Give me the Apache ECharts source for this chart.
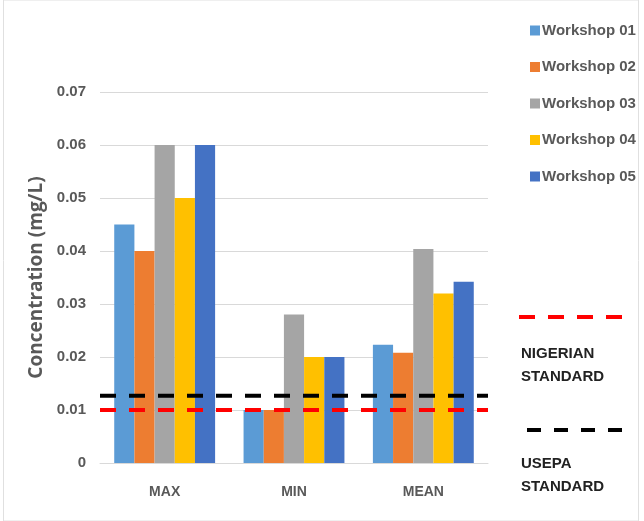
<!DOCTYPE html>
<html lang="en">
<head>
    <meta charset="UTF-8">
    <title>Concentration</title>
    <script type="text/javascript" src="https://cdn.jsdelivr.net/npm/echarts@6/dist/echarts.min.js"></script>
    <style>
        html, body { margin: 0; padding: 0; background: #fff; }
        #chart { width: 644px; height: 521px; }
    </style>
</head>
<body>
<div id="chart"></div>
<script type="text/javascript">
    var categories = ['MAX', 'MIN', 'MEAN'];
    var workshopNames = ['Workshop 01', 'Workshop 02', 'Workshop 03', 'Workshop 04', 'Workshop 05'];
    var workshop01 = [0.045, 0.010, 0.0223];
    var workshop02 = [0.040, 0.010, 0.0208];
    var workshop03 = [0.060, 0.028, 0.0404];
    var workshop04 = [0.050, 0.020, 0.0320];
    var workshop05 = [0.060, 0.020, 0.0342];
    var nigerianStandard = 0.010;
    var usepaStandard = 0.0127;
    var colors = ['#5B9BD5', '#ED7D31', '#A5A5A5', '#FFC000', '#4472C4'];

    var font = "'Liberation Sans', Arial, sans-serif";
    var allData = [workshop01, workshop02, workshop03, workshop04, workshop05];

    var series = workshopNames.map(function (name, i) {
        return {
            name: name,
            type: 'bar',
            data: allData[i],
            barGap: 0,
            barCategoryGap: '22%',
            itemStyle: { color: colors[i] }
        };
    });

    // standard lines across the whole plot, on a hidden 0..1 x axis
    function stdLine(name, value, color) {
        return {
            name: name,
            type: 'line',
            xAxisIndex: 1,
            data: [[0, value], [1, value]],
            symbol: 'none',
            silent: true,
            z: 5,
            lineStyle: { color: color, width: 4, type: [16, 13] }
        };
    }
    series.push(stdLine('USEPA', usepaStandard, '#000'));
    series.push(stdLine('NIGERIAN', nigerianStandard, '#f00'));

    var chart = echarts.init(document.getElementById('chart'));
    var option = {
        animation: false,
        textStyle: { fontFamily: font },
        grid: { left: 100, right: 156, top: 92, bottom: 58 },
        legend: {
            orient: 'vertical',
            left: 525,
            top: 18,
            itemWidth: 10,
            itemHeight: 10,
            itemGap: 21.5,
            icon: 'rect',
            data: workshopNames,
            textStyle: { fontFamily: font, fontSize: 15, fontWeight: 'bold', color: '#595959', padding: [0, 0, 0, -3] }
        },
        xAxis: [{
            type: 'category',
            data: categories,
            axisLine: { show: true, lineStyle: { color: '#d9d9d9' } },
            axisTick: { show: false },
            axisLabel: { color: '#595959', fontSize: 14, fontWeight: 'bold', margin: 22, fontFamily: font }
        }, {
            type: 'value',
            min: 0,
            max: 1,
            show: false
        }],
        yAxis: {
            type: 'value',
            min: 0,
            max: 0.07,
            interval: 0.01,
            name: 'Concentration (mg/L)',
            nameLocation: 'middle',
            nameGap: 47,
            nameTextStyle: { color: '#595959', fontSize: 19, fontWeight: 'bold', fontFamily: "'Open Sans', sans-serif" },
            axisLine: { show: false },
            axisTick: { show: false },
            splitLine: { lineStyle: { color: '#d9d9d9' } },
            axisLabel: {
                color: '#595959',
                fontSize: 15,
                fontWeight: 'bold',
                margin: 14,
                fontFamily: font,
                formatter: function (v) { return v === 0 ? '0' : v.toFixed(2); }
            }
        },
        graphic: [
            { type: 'rect', shape: { x: 3.5, y: 0, width: 635, height: 521 }, style: { fill: 'none', stroke: '#e0e0e0', lineWidth: 1 }, silent: true },
            { type: 'line', shape: { x1: 519, y1: 317, x2: 624, y2: 317 }, style: { stroke: '#f00', lineWidth: 4, lineDash: [16, 13] } },
            { type: 'text', left: 521, top: 342, style: { text: 'NIGERIAN\nSTANDARD', fill: '#222', font: 'bold 15px ' + font, lineHeight: 23 } },
            { type: 'line', shape: { x1: 527, y1: 430, x2: 622, y2: 430 }, style: { stroke: '#000', lineWidth: 4, lineDash: [14, 13] } },
            { type: 'text', left: 521, top: 452, style: { text: 'USEPA\nSTANDARD', fill: '#222', font: 'bold 15px ' + font, lineHeight: 23 } }
        ],
        series: series
    };
    chart.setOption(option);
</script>
</body>
</html>
